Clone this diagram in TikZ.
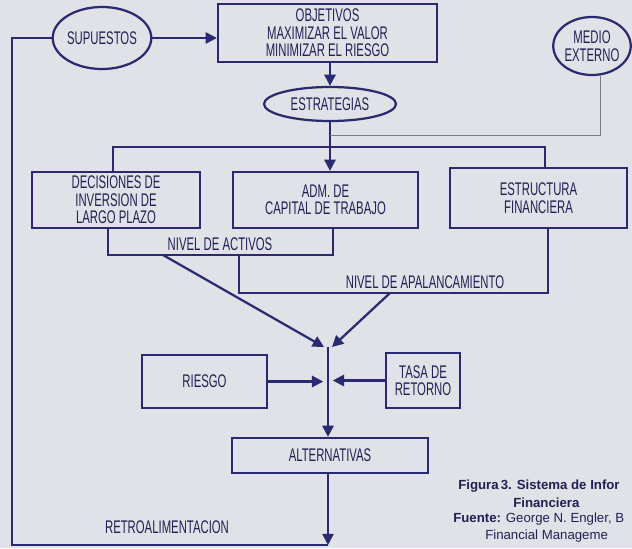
\documentclass[tikz,border=0pt]{standalone}
\usepackage{fontspec}
\usepackage{tikz}
\usetikzlibrary{shapes.geometric, arrows.meta, positioning, calc}
\setmainfont{Liberation Sans}
\newfontfamily\condfont[FakeStretch=0.62]{Liberation Sans}
\definecolor{cNavy}{RGB}{42,42,112}
\definecolor{cInk}{RGB}{32,32,85}
\definecolor{cPaper}{RGB}{224,226,231}
\definecolor{cThin}{RGB}{120,122,140}
\tikzset{
	blk/.style      ={rectangle, draw=cNavy, line width=1.6pt, align=center, text=cInk, inner sep=1pt},
	ovalnode/.style ={ellipse, draw=cNavy, line width=1.6pt, align=center, text=cInk, inner sep=0pt},
	lbl/.style      ={text=cInk, inner sep=0pt},
	flowarrow/.style={-{Triangle[length=8pt,width=8pt]}, line width=1.6pt, draw=cNavy},
	wire/.style     ={line width=1.6pt, draw=cNavy},
	% caption under the chart
	capt/.style     ={text=cInk, anchor=west, inner sep=0pt, font=\normalfont\fontsize{9.4}{11}\selectfont},
}

\begin{document}
\begin{tikzpicture}[x=0.025cm, y=-0.025cm, font=\condfont\fontsize{13}{12.4}\selectfont]
	\fill[cPaper] (0,0) rectangle (632,548);
	\useasboundingbox (0,0) rectangle (632,548);
	\node[ovalnode, minimum width=2.25cm, minimum height=1.55cm] (sup) at (102,38) {SUPUESTOS};
	\node[blk, minimum width=5.475cm, minimum height=1.45cm] (obj) at (327.5,33) {OBJETIVOS\\ MAXIMIZAR EL VALOR\\ MINIMIZAR EL RIESGO};
	\node[ovalnode, minimum width=3.3cm, minimum height=0.85cm] (est) at (330,104) {ESTRATEGIAS};
	\node[ovalnode, minimum width=1.925cm, minimum height=1.45cm] (med) at (592,46) {MEDIO\\ EXTERNO};
	\node[blk, minimum width=4.2cm, minimum height=1.4cm] (dec) at (116,200) {DECISIONES DE\\ INVERSION DE\\ LARGO PLAZO};
	\node[blk, minimum width=4.625cm, minimum height=1.4cm] (adm) at (325.5,200) {ADM. DE\\ CAPITAL DE TRABAJO};
	\node[blk, minimum width=4.425cm, minimum height=1.5cm] (fin) at (538.5,198) {ESTRUCTURA\\ FINANCIERA};
	\node[blk, minimum width=3.125cm, minimum height=1.325cm] (rie) at (204.5,381.5) {RIESGO};
	\node[blk, minimum width=1.85cm, minimum height=1.375cm] (tasa) at (423,380.5) {TASA DE\\ RETORNO};
	\node[blk, minimum width=4.9cm, minimum height=0.875cm] (alt) at (330,455.5) {ALTERNATIVAS};
	\node[lbl] (act) at (220,244) {NIVEL DE ACTIVOS};
	\node[lbl] (apa) at (425,282) {NIVEL DE APALANCAMIENTO};
	\node[lbl] (ret) at (167,527) {RETROALIMENTACION};
	\coordinate (jl) at (113,147);
	\coordinate (jr) at (545,147);
	\coordinate (jm) at (600,135);
	\coordinate (al) at (108,255);
	\coordinate (ar) at (333,255);
	\coordinate (pl) at (239,293);
	\coordinate (pr) at (548,293);
	\coordinate (dl) at (163,255);
	\coordinate (dr) at (390,293);
	\coordinate (cv) at (328,347);
	\coordinate (fb) at (328,545);
	\coordinate (fl) at (12,545);
	\draw[flowarrow] (sup.east) -- (sup.east -| obj.west);
	\draw[flowarrow] (obj.south -| est.north) -- (est.north);
	\draw[flowarrow] (est.south) -- (est.south |- adm.north);
	\draw[cThin, line width=0.6pt] (med.south -| jm) -- (jm) -- (jm -| est.south);
	\draw[wire] (dec.north -| jl) -- (jl) -- (jr) -- (fin.north -| jr);
	\draw[wire] (dec.south -| al) -- (al) -- (ar) -- (adm.south -| ar);
	\draw[wire] (al -| pl) -- (pl) -- (pr) -- (fin.south -| pr);
	\draw[flowarrow] (dl) -- ([xshift=-0.1cm]cv);
	\draw[flowarrow] (dr) -- ([xshift=0.1cm]cv);
	\draw[flowarrow] (cv) -- (cv |- alt.north);
	\draw[flowarrow, shorten >=0.12cm] (rie.east) -- (rie.east -| cv);
	\draw[flowarrow, shorten >=0.12cm] (tasa.west) -- (tasa.west -| cv);
	\draw[flowarrow] (alt.south -| fb) -- (fb);
	\draw[wire] (fb) -- (fl) |- (sup.west);
	\node[capt] (cap1) at (458,486) {\bfseries Figura\,3. Sistema de Infor};
	\node[capt] (cap2) at (513,503) {\bfseries Financiera};
	\node[capt] (cap3) at (453,519) {\textbf{Fuente:} George N. Engler, B};
	\node[capt] (cap4) at (485,536) {Financial Manageme};
\end{tikzpicture}
\end{document}
